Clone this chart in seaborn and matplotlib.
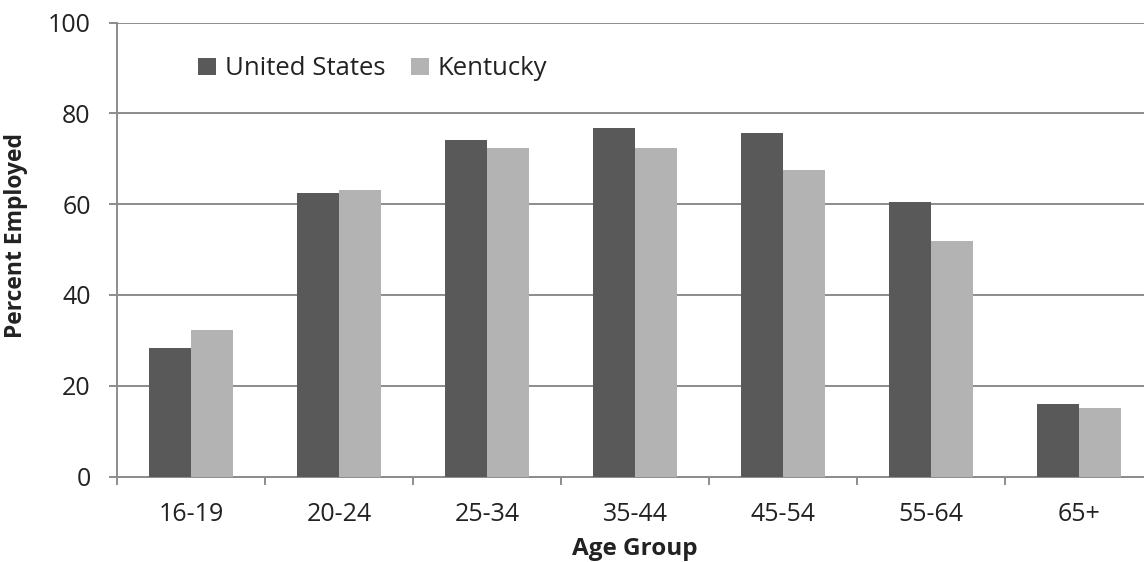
import matplotlib
matplotlib.use("Agg")
import matplotlib.pyplot as plt
from matplotlib.ticker import FixedLocator, MultipleLocator
import pandas as pd
import seaborn as sns

age_groups = ["16-19", "20-24", "25-34", "35-44", "45-54", "55-64", "65+"]
united_states = [28.4, 62.4, 74.2, 76.9, 75.6, 60.5, 16.0]
kentucky = [32.3, 63.2, 72.5, 72.5, 67.5, 51.9, 15.2]
series_names = ["United States", "Kentucky"]
series_colors = ["#595959", "#b3b3b3"]

df = pd.DataFrame({
    "Age Group": age_groups * 2,
    "Percent Employed": united_states + kentucky,
    "Series": [series_names[0]] * len(age_groups) + [series_names[1]] * len(age_groups),
})

sns.set_theme(style="white")
plt.rcParams["font.family"] = ["Open Sans", "DejaVu Sans"]
plt.rcParams["text.color"] = "#222222"

fig = plt.figure(figsize=(11.44, 5.62), dpi=100)
ax = fig.add_axes([0.1023, 0.1521, 0.9056, 0.8075])

grid_color = "#8c8c8c"
sns.barplot(
    data=df, x="Age Group", y="Percent Employed", hue="Series",
    order=age_groups, hue_order=series_names,
    palette=series_colors, width=0.567, saturation=1,
    edgecolor="none", linewidth=0, ax=ax, zorder=3,
)

ax.set_ylim(0, 100)
ax.set_xlim(-0.5, len(age_groups) - 0.5)
ax.yaxis.set_major_locator(MultipleLocator(20))
ax.yaxis.grid(True, color=grid_color, linewidth=1.4, zorder=0)
ax.set_axisbelow(True)

for side in ("top", "right"):
    ax.spines[side].set_visible(False)
for side in ("left", "bottom"):
    ax.spines[side].set_color(grid_color)
    ax.spines[side].set_linewidth(1.4)

tick_size = 18
ax.tick_params(axis="y", which="major", direction="out", length=6, width=1.4,
               color=grid_color, labelsize=tick_size, labelcolor="#222222", pad=13, left=True)
ax.tick_params(axis="x", which="major", length=0, labelsize=tick_size,
               labelcolor="#222222", pad=18)
ax.xaxis.set_minor_locator(FixedLocator([i - 0.5 for i in range(len(age_groups) + 1)]))
ax.tick_params(axis="x", which="minor", direction="out", length=6, width=1.4,
               color=grid_color, bottom=True)

ax.set_xlabel("Age Group", fontsize=17.5, fontweight="bold", color="#222222")
ax.set_ylabel("Percent Employed", fontsize=16.5, fontweight="bold", color="#222222")
ax.xaxis.set_label_coords(0.5, -0.133)
ax.yaxis.set_label_coords(-0.086, 0.53)

ax.legend(
    loc="center left", bbox_to_anchor=(0.078, 0.898), ncol=2, frameon=False,
    fontsize=18.5, handlelength=0.7, handleheight=0.7, handletextpad=0.35,
    columnspacing=1.0, borderaxespad=0, borderpad=0,
)

fig.savefig("out.png", dpi=100)
